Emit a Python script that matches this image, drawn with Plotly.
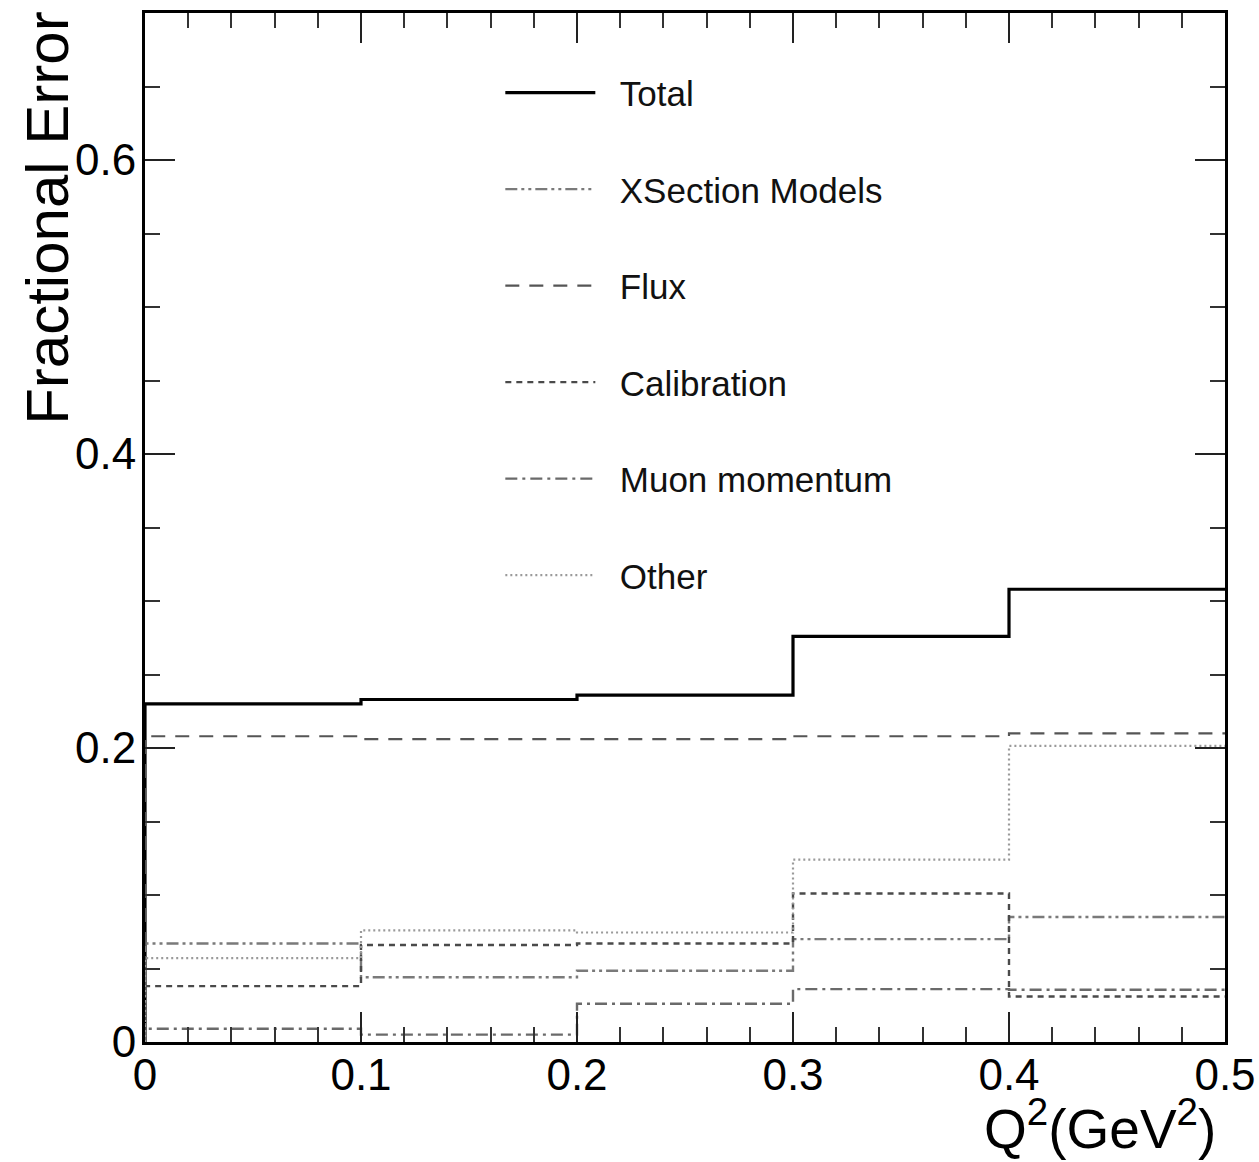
import plotly.graph_objects as go

# Bin edges (Q^2 in GeV^2)
bin_edges = [0.0, 0.1, 0.2, 0.3, 0.4, 0.5]

# Fractional errors per bin
total = [0.230, 0.233, 0.236, 0.276, 0.308]
xsection_models = [0.067, 0.044, 0.0485, 0.070, 0.085]
flux = [0.208, 0.206, 0.206, 0.208, 0.210]
calibration = [0.038, 0.066, 0.067, 0.101, 0.031]
muon_momentum = [0.009, 0.005, 0.026, 0.036, 0.0355]
other = [0.057, 0.076, 0.0745, 0.124, 0.2015]

series_names = ["Total", "XSection Models", "Flux", "Calibration", "Muon momentum", "Other"]
series_values = [total, xsection_models, flux, calibration, muon_momentum, other]
styles = [
    dict(color="#000000", width=3.2, dash="solid"),
    dict(color="#7a7a7a", width=2.4, dash="12px,4px,3px,4px,3px,4px"),
    dict(color="#555555", width=2.2, dash="14px,10px"),
    dict(color="#4a4a4a", width=2.4, dash="6px,5px"),
    dict(color="#6a6a6a", width=2.4, dash="12px,5px,3px,5px"),
    dict(color="#9a9a9a", width=2.2, dash="2px,3px"),
]

FONT = "Liberation Sans, Arial, Helvetica, sans-serif"
PAD = "\u00a0\u00a0"

fig = go.Figure()
for i, (name, vals, st) in enumerate(zip(series_names, series_values, styles)):
    xs = [bin_edges[0]] + bin_edges
    ys = [0] + vals + [vals[-1]]
    fig.add_trace(go.Scatter(
        x=xs, y=ys, mode="lines", line_shape="hv", name=PAD + name,
        line=st, legendgroup=f"g{i}", hoverinfo="skip",
    ))

fig.update_layout(
    width=1259, height=1162,
    margin=dict(l=145, r=34, t=13, b=120, autoexpand=False),
    paper_bgcolor="white", plot_bgcolor="white",
    font=dict(family=FONT, color="black"),
    showlegend=True,
    legend=dict(
        x=0.329, y=0.951, xanchor="left", yanchor="top",
        font=dict(size=35, family=FONT, color="#111"),
        bgcolor="rgba(0,0,0,0)", borderwidth=0,
        itemwidth=90, traceorder="grouped", tracegroupgap=48,
    ),
    xaxis=dict(
        range=[0, 0.5], tickvals=[0, 0.1, 0.2, 0.3, 0.4, 0.5],
        ticktext=["0", "0.1", "0.2", "0.3", "0.4", "0.5"],
        ticks="inside", ticklen=30, tickwidth=2, tickcolor="#222",
        minor=dict(dtick=0.02, ticks="inside", ticklen=15, tickwidth=2, tickcolor="#333"),
        showline=True, linecolor="black", linewidth=3, mirror="allticks",
        showgrid=False, zeroline=False, automargin=False,
        tickfont=dict(size=44, family=FONT, color="black"),
        ticklabelstandoff=-8,
    ),
    yaxis=dict(
        range=[0, 0.7], tickvals=[0, 0.2, 0.4, 0.6],
        ticktext=["0", "0.2", "0.4", "0.6"],
        ticks="inside", ticklen=30, tickwidth=2, tickcolor="#222",
        minor=dict(dtick=0.05, ticks="inside", ticklen=15, tickwidth=2, tickcolor="#333"),
        showline=True, linecolor="black", linewidth=3, mirror="allticks",
        showgrid=False, zeroline=False, automargin=False,
        tickfont=dict(size=44, family=FONT, color="black"),
        ticklabelstandoff=-3,
    ),
    annotations=[
        dict(text="Fractional Error", textangle=-90, xref="paper", yref="paper",
             x=-0.0898, y=0.800, xanchor="center", yanchor="middle", showarrow=False,
             font=dict(size=60, family=FONT, color="black")),
        dict(text="Q<sup>2</sup>(GeV<sup>2</sup>)", xref="paper", yref="paper",
             x=0.884, y=-0.081, xanchor="center", yanchor="middle", showarrow=False,
             font=dict(size=55, family=FONT, color="black")),
    ],
)

fig.write_html("out.html")
